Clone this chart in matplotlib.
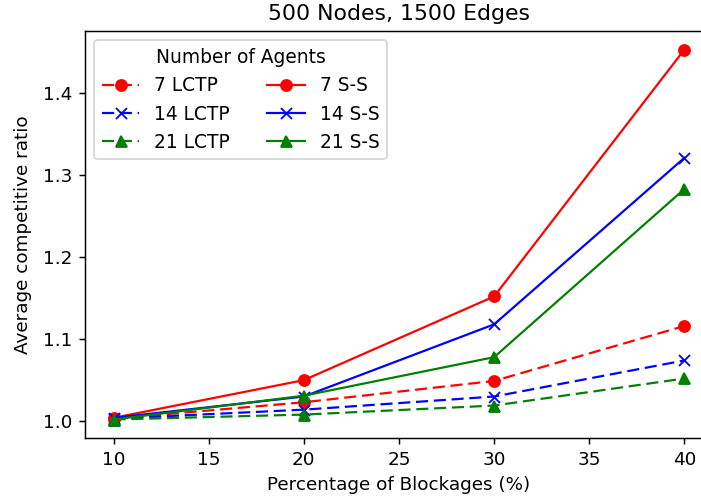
import matplotlib
matplotlib.use("Agg")
import matplotlib.pyplot as plt

blockages = [10, 20, 30, 40]
lctp_7 = [1.003, 1.023, 1.049, 1.116]
lctp_14 = [1.003, 1.014, 1.030, 1.074]
lctp_21 = [1.002, 1.008, 1.019, 1.052]
ss_7 = [1.004, 1.050, 1.152, 1.453]
ss_14 = [1.004, 1.030, 1.118, 1.321]
ss_21 = [1.002, 1.031, 1.078, 1.283]

DPI = 132
fig = plt.figure(figsize=(701 / DPI, 501 / DPI), dpi=DPI)
ax = fig.add_axes([85/701, 63/501, 628/701, 407/501])

LW = 1.2
DASH = (5.5, 2.6)
ax.plot(blockages, lctp_7, 'r--o', label='7 LCTP', lw=LW, dashes=DASH)
ax.plot(blockages, lctp_14, 'b--x', label='14 LCTP', lw=LW, dashes=DASH)
ax.plot(blockages, lctp_21, 'g--^', label='21 LCTP', lw=LW, dashes=DASH)
ax.plot(blockages, ss_7, 'r-o', label='7 S-S', lw=LW)
ax.plot(blockages, ss_14, 'b-x', label='14 S-S', lw=LW)
ax.plot(blockages, ss_21, 'g-^', label='21 S-S', lw=LW)

ax.set_title('500 Nodes, 1500 Edges')
ax.set_xlabel('Percentage of Blockages (%)')
ax.set_ylabel('Average competitive ratio', labelpad=6)
ax.legend(title='Number of Agents', ncol=2, loc='upper left',
          fontsize=10.2, title_fontsize=10.2)

fig.savefig('out.png', dpi=DPI)
